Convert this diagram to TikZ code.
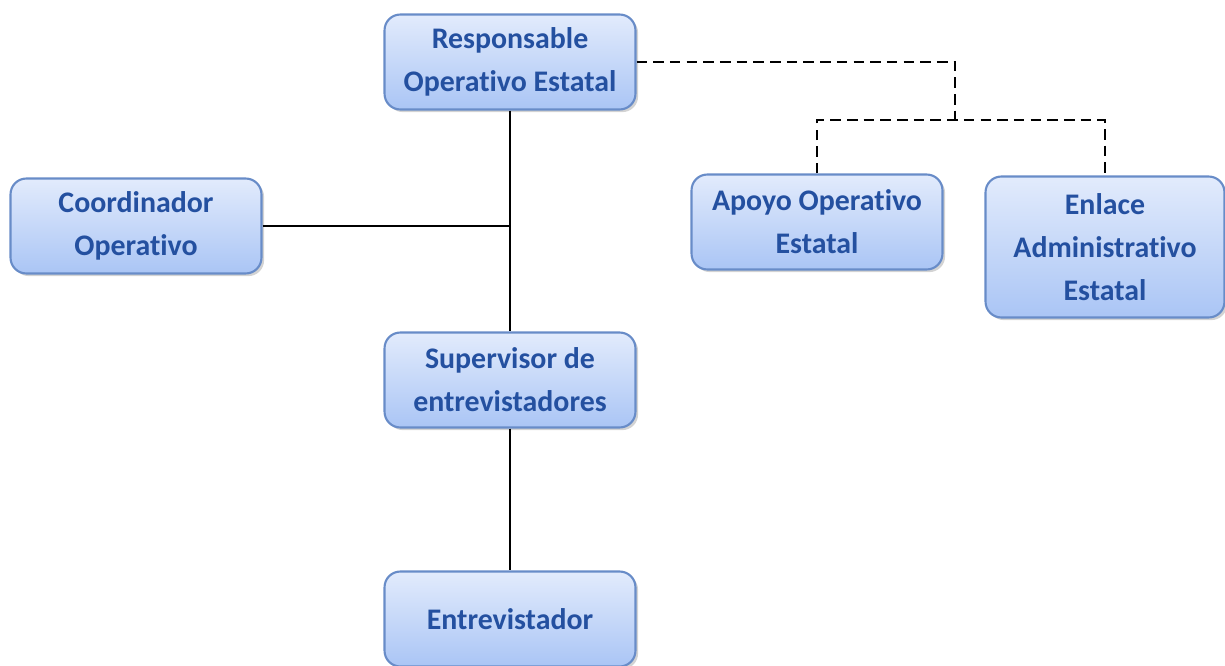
\documentclass[tikz,border=0pt]{standalone}
\usepackage{fontspec}
\setmainfont{Carlito}[Ligatures=NoCommon]
\usetikzlibrary{positioning,shadows}

\definecolor{unitline}{RGB}{104,140,200}
\definecolor{unittop}{RGB}{226,235,252}
\definecolor{unitbot}{RGB}{170,197,245}
\definecolor{unittext}{RGB}{36,80,160}

\begin{document}
\begin{tikzpicture}[
x=0.02cm, y=-0.02cm,
unit/.style={
  draw=unitline,
  line width=1.2pt,
  rounded corners=9pt,
  top color=unittop,
  bottom color=unitbot,
  drop shadow={shadow xshift=1.5pt, shadow yshift=-1.5pt, opacity=0.35},
  align=center,
  font=\fontsize{17}{24.5}\selectfont\bfseries,
  text=unittext,
  minimum width=5.02cm,
  minimum height=1.9cm,
  inner sep=2pt
  },
link/.style={
  draw=black,
  line width=1.1pt
  },
staff/.style={
  draw=black,
  line width=1.1pt,
  dash pattern=on 6pt off 3.5pt
  }
]
\useasboundingbox (0,0) rectangle (1225,666);

\node[unit] (resp) at (510,62) {Responsable\\Operativo Estatal};
\node[unit] (coord) at (136,226) {Coordinador\\Operativo};
\node[unit] (apoyo) at (817,222) {Apoyo Operativo\\Estatal};
\node[unit, minimum width=4.78cm, minimum height=2.82cm] (enlace) at (1105,247) {Enlace\\Administrativo\\Estatal};
\node[unit] (super) at (510,380) {Supervisor de\\entrevistadores};
\node[unit] (entre) at (510,619) {Entrevistador};

% line of command
\draw[link] (resp.south) -- (super.north);
\draw[link] (coord.east) -- (coord.east -| resp.south);
\draw[link] (super.south) -- (entre.north);

% staff units
\coordinate (split) at (955,120);
\draw[staff] (resp.east) -| (split);
\draw[staff] (apoyo.north) |- (split) -| (enlace.north);

\end{tikzpicture}
\end{document}
